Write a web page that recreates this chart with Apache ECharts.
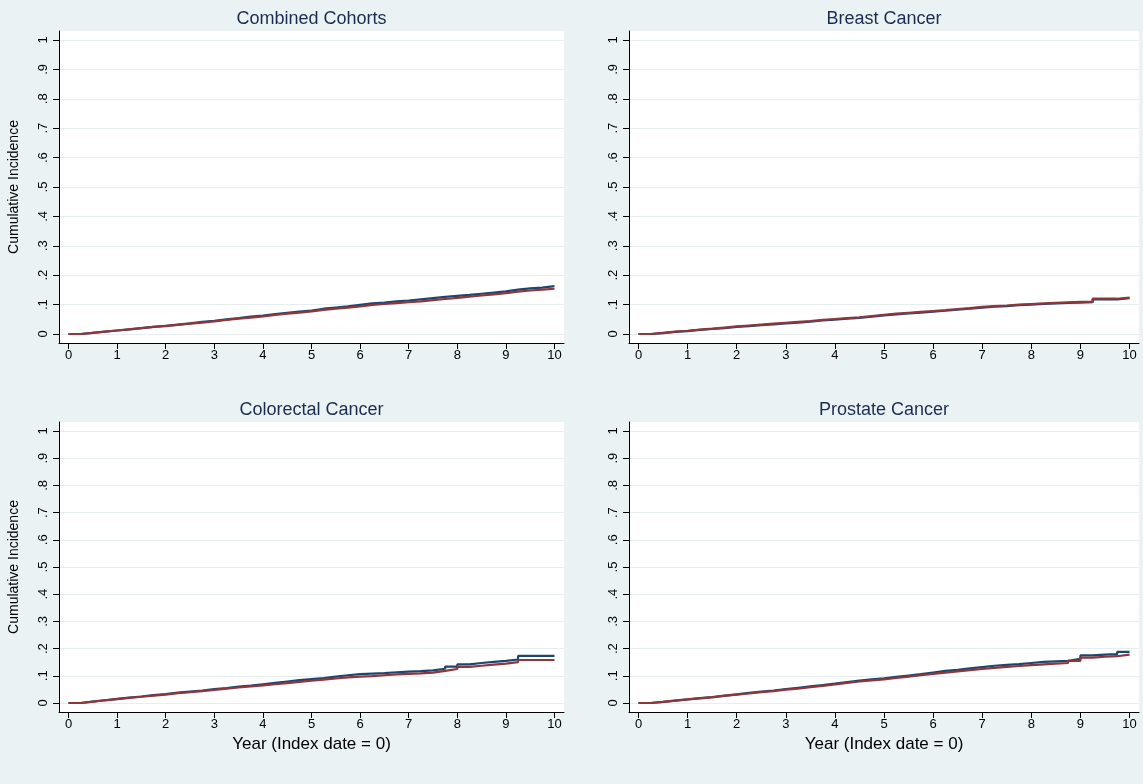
<!DOCTYPE html>
<html>
<head>
<meta charset="utf-8">
<style>
  html, body { margin: 0; padding: 0; background: #eaf2f3; }
  #chart { width: 1143px; height: 784px; }
</style>
<script src="https://cdn.jsdelivr.net/npm/echarts@6.0.0/dist/echarts.min.js"></script>
</head>
<body>
<div id="chart"></div>
<script>
  // ---- data ----
  const panelTitles = ['Combined Cohorts', 'Breast Cancer', 'Colorectal Cancer', 'Prostate Cancer']
  const xTicks = [0, 1, 2, 3, 4, 5, 6, 7, 8, 9, 10]
  const yTicks = [0, 0.1, 0.2, 0.3, 0.4, 0.5, 0.6, 0.7, 0.8, 0.9, 1]
  const years = [0, 0.25, 0.5, 0.75, 1, 1.25, 1.5, 1.75, 2, 2.25, 2.5, 2.75, 3, 3.25, 3.5, 3.75,
    4, 4.25, 4.5, 4.75, 5, 5.25, 5.5, 5.75, 6, 6.25, 6.5, 6.75, 7, 7.25, 7.5, 7.75,
    8, 8.25, 8.5, 8.75, 9, 9.25, 9.5, 9.75, 10]

  const combinedBlue = [0, .004, .008, .012, .016, .020, .024, .028, .032, .036, .041, .045, .050, .054, .059, .063,
    .068, .072, .076, .080, .086, .090, .094, .099, .104, .107, .111, .114, .118, .122, .126, .130,
    .133, .137, .141, .145, .151, .155, .158, .163, .163]
  const combinedRed = [0, .004, .008, .012, .016, .020, .024, .027, .031, .035, .039, .043, .048, .052, .056, .060,
    .065, .069, .073, .077, .082, .086, .090, .094, .099, .102, .105, .108, .111, .115, .119, .123,
    .127, .131, .135, .139, .144, .148, .151, .154, .154]
  const breastBlue = [0, .003, .007, .010, .014, .017, .020, .024, .027, .030, .033, .036, .039, .042, .046, .049,
    .052, .055, .059, .063, .067, .070, .073, .076, .079, .083, .086, .090, .093, .095, .098, .100,
    .102, .104, .106, .107, .108, .118, .118, .122, .122]
  const breastRed = [0, .004, .008, .011, .015, .018, .022, .026, .029, .032, .035, .038, .041, .044, .048, .051,
    .054, .057, .061, .065, .069, .072, .075, .078, .081, .085, .088, .092, .095, .097, .100, .102,
    .104, .106, .108, .109, .110, .120, .120, .124, .124]
  const colorectalBlue = [0, .005, .010, .015, .020, .024, .029, .033, .038, .042, .046, .051, .055, .060, .064, .069,
    .074, .079, .084, .088, .092, .097, .102, .106, .108, .110, .113, .115, .117, .120, .126, .134,
    .142, .147, .151, .155, .160, .173, .173, .173, .173]
  const colorectalRed = [0, .005, .010, .014, .019, .023, .027, .031, .036, .040, .044, .048, .053, .057, .061, .065,
    .069, .073, .078, .082, .086, .090, .094, .097, .099, .102, .105, .107, .109, .112, .118, .125,
    .133, .137, .141, .145, .150, .158, .158, .158, .158]
  const prostateBlue = [0, .004, .009, .013, .018, .022, .027, .032, .037, .042, .046, .051, .056, .061, .066, .071,
    .077, .082, .087, .091, .096, .101, .106, .112, .118, .122, .127, .132, .137, .140, .143, .147,
    .151, .153, .155, .162, .175, .178, .180, .188, .188]
  const prostateRed = [0, .004, .009, .013, .017, .021, .026, .031, .035, .040, .044, .049, .053, .058, .063, .068,
    .074, .079, .083, .087, .092, .097, .102, .107, .112, .116, .121, .125, .129, .133, .136, .139,
    .142, .145, .147, .155, .167, .170, .172, .178, .178]

  const panelSeries = [
    [combinedBlue, combinedRed],
    [breastBlue, breastRed],
    [colorectalBlue, colorectalRed],
    [prostateBlue, prostateRed],
  ]

  // ---- layout ----
  const boxes = [
    {left: 59, top: 31, width: 505, height: 312},
    {left: 629, top: 31, width: 510, height: 312},
    {left: 59, top: 422, width: 505, height: 290},
    {left: 629, top: 422, width: 510, height: 290},
  ]
  const padX = 9.5 // px between plot edge and first/last tick
  const padY = 9
  const lineColors = ['#1a476f', '#90353b']
  const font = 'Liberation Sans, Arial, sans-serif'

  function yLabel (v){
    if(v === 0) return '0'
    if(v === 1) return '1'
    return v.toFixed(1).replace(/^0/, '')
  }

  let grid = [], xAxis = [], yAxis = [], series = [], title = []
  boxes.forEach((b, i) => {
    const xSpan = (b.width - 2 * padX) / 10
    const ySpan = b.height - 2 * padY
    grid.push({
      left: b.left, top: b.top, width: b.width, height: b.height,
      show: true, backgroundColor: '#ffffff', borderWidth: 0,
    })
    title.push({
      text: panelTitles[i],
      left: b.left + b.width / 2,
      top: b.top - 21,
      padding: 0,
      textAlign: 'center',
      textStyle: {color: '#1c2c50', fontSize: 18, fontWeight: 'normal', fontFamily: font},
    })
    const bottomRow = i >= 2
    const leftCol = i % 2 === 0
    xAxis.push({
      gridIndex: i,
      type: 'value',
      min: -padX / xSpan,
      max: 10 + padX / xSpan,
      name: bottomRow ? 'Year (Index date = 0)' : '',
      nameLocation: 'middle',
      nameGap: 24,
      nameTextStyle: {color: '#000', fontSize: 17, fontFamily: font},
      axisLine: {show: true, onZero: false, lineStyle: {color: '#000', width: 1}},
      axisTick: {show: true, length: 6, customValues: xTicks, lineStyle: {color: '#000'}},
      axisLabel: {customValues: xTicks, color: '#000', fontSize: 13, fontFamily: font, margin: 6},
      splitLine: {show: false},
    })
    yAxis.push({
      gridIndex: i,
      type: 'value',
      min: -padY / ySpan,
      max: 1 + padY / ySpan,
      name: leftCol ? 'Cumulative Incidence' : '',
      nameLocation: 'middle',
      nameRotate: 90,
      nameGap: 38,
      nameTextStyle: {color: '#000', fontSize: 14, fontFamily: font},
      axisLine: {show: true, onZero: false, lineStyle: {color: '#000', width: 1}},
      axisTick: {show: true, length: 6, customValues: yTicks, lineStyle: {color: '#000'}},
      axisLabel: {
        customValues: yTicks, rotate: 90, color: '#000', fontSize: 13, fontFamily: font, margin: 9,
        formatter: yLabel,
      },
      splitLine: {show: true, lineStyle: {color: '#e6eef0', width: 1}},
    })
    panelSeries[i].forEach((vals, k) => {
      series.push({
        type: 'line',
        xAxisIndex: i,
        yAxisIndex: i,
        step: 'end',
        showSymbol: false,
        silent: true,
        lineStyle: {color: lineColors[k], width: 2.2},
        itemStyle: {color: lineColors[k]},
        data: years.map((t, j) => [t, vals[j]]),
      })
    })
  })

  const chart = echarts.init(document.getElementById('chart'))
  chart.setOption({
    backgroundColor: '#eaf2f3',
    animation: false,
    title: title,
    grid: grid,
    xAxis: xAxis,
    yAxis: yAxis,
    series: series,
  })
</script>
</body>
</html>
